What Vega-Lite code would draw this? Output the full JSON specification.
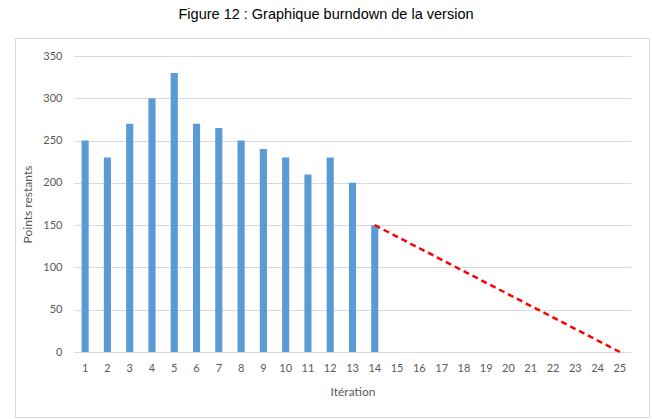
{
  "$schema": "https://vega.github.io/schema/vega-lite/v6.json",
  "width": 634,
  "height": 379,
  "autosize": {"type": "none"},
  "padding": {"left": 15, "top": 38, "right": 3, "bottom": 2},
  "background": "white",
  "title": {
    "text": "Figure 12 : Graphique burndown de la version",
    "font": "Liberation Sans",
    "fontSize": 14.5,
    "fontWeight": "normal",
    "color": "#000000",
    "anchor": "middle",
    "dx": -6,
    "offset": 16
  },
  "config": {
    "view": {"stroke": "#d9d9d9", "strokeWidth": 1},
    "axis": {
      "labelFont": "Lato",
      "titleFont": "Lato",
      "labelColor": "#595959",
      "titleColor": "#595959",
      "labelFontSize": 11,
      "titleFontSize": 12,
      "titleFontWeight": "normal",
      "domain": false,
      "ticks": false
    }
  },
  "datasets": {
    "bars": [
      {"iteration": "1", "points": 250},
      {"iteration": "2", "points": 230},
      {"iteration": "3", "points": 270},
      {"iteration": "4", "points": 300},
      {"iteration": "5", "points": 330},
      {"iteration": "6", "points": 270},
      {"iteration": "7", "points": 265},
      {"iteration": "8", "points": 250},
      {"iteration": "9", "points": 240},
      {"iteration": "10", "points": 230},
      {"iteration": "11", "points": 210},
      {"iteration": "12", "points": 230},
      {"iteration": "13", "points": 200},
      {"iteration": "14", "points": 150}
    ],
    "trend": [
      {"iteration": "14", "points": 150},
      {"iteration": "25", "points": 0}
    ]
  },
  "layer": [
    {
      "data": {"name": "bars"},
      "mark": {"type": "bar", "color": "#5b9bd5"},
      "encoding": {
        "x": {
          "field": "iteration",
          "type": "ordinal",
          "sort": null,
          "scale": {
            "domain": ["1","2","3","4","5","6","7","8","9","10","11","12","13","14","15","16","17","18","19","20","21","22","23","24","25"],
            "range": [59, 616],
            "paddingInner": 0.68,
            "paddingOuter": 0.34
          },
          "axis": {
            "title": "Itération",
            "labelAngle": 0,
            "offset": -65,
            "labelPadding": 10,
            "titlePadding": 13,
            "grid": false
          }
        },
        "y": {
          "field": "points",
          "type": "quantitative",
          "scale": {"domain": [0, 350], "range": [314, 18], "nice": false, "zero": true},
          "axis": {
            "title": "Points restants",
            "values": [0, 50, 100, 150, 200, 250, 300, 350],
            "offset": -59,
            "labelPadding": 12,
            "titlePadding": 8,
            "grid": true,
            "gridColor": "#d9d9d9",
            "gridWidth": 1
          }
        }
      }
    },
    {
      "data": {"name": "trend"},
      "mark": {"type": "line", "color": "#ff0000", "strokeDash": [6, 4], "strokeWidth": 2.5},
      "encoding": {
        "x": {"field": "iteration", "type": "ordinal", "sort": null},
        "y": {"field": "points", "type": "quantitative"}
      }
    }
  ]
}
